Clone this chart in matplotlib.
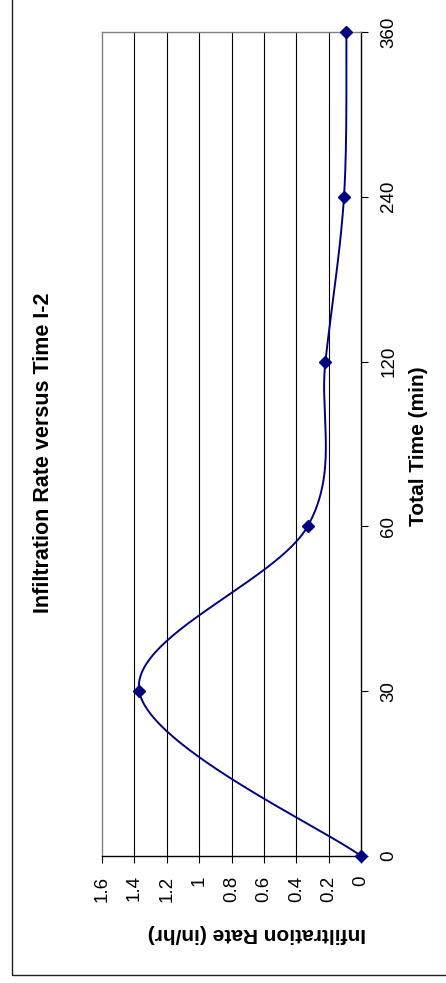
import numpy as np
import matplotlib
matplotlib.use("Agg")
import matplotlib.pyplot as plt
from matplotlib.patches import Rectangle

plt.rcParams['font.family'] = ['Liberation Sans', 'DejaVu Sans']

# infiltration test I-2
times = ['0', '30', '60', '120', '240', '360']
rates = [0.0, 1.37, 0.33, 0.22, 0.105, 0.09]
rate_ticks = [0, 0.2, 0.4, 0.6, 0.8, 1, 1.2, 1.4, 1.6]

W, H = 446, 983
fig = plt.figure(figsize=(W / 100, H / 100), dpi=100)

# chart area border (runs off the top and right of the page)
fig.add_artist(Rectangle((12 / W, 8 / H), 1.0, 1.0, transform=fig.transFigure,
                         fill=False, edgecolor='#222222', linewidth=1.0, clip_on=False))

# plot is turned on its side: rate runs right-to-left, time runs bottom-to-top
ax = fig.add_axes([102 / W, 1 - 856 / H, (361 - 102) / W, (856 - 32) / H])
ax.set_xlim(1.6, 0)
ax.set_ylim(0, len(times) - 1)

for v in rate_ticks[1:-1]:
    ax.axvline(v, color='black', linewidth=0.8, zorder=1)

for side in ['left', 'top']:
    ax.spines[side].set_color('#808080')
    ax.spines[side].set_linewidth(1.0)
for side in ['right', 'bottom']:
    ax.spines[side].set_color('black')
    ax.spines[side].set_linewidth(1.0)

idx = np.arange(len(times))
ax.yaxis.tick_right()
ax.set_yticks(idx)
ax.set_yticklabels(times, rotation=90, va='center', ha='left')
ax.set_xticks(rate_ticks)
ax.set_xticklabels([f'{v:g}' for v in rate_ticks], rotation=90, ha='center', va='top')
ax.tick_params(axis='y', direction='out', length=5, width=0.8, pad=9, labelsize=13.5)
ax.tick_params(axis='x', direction='out', length=5, width=0.8, pad=9, labelsize=13.5)


# smoothed line through the points (Catmull-Rom style beziers in screen space)
def smooth(xs, ys, n=60):
    pts = ax.transData.transform(np.column_stack([xs, ys]))
    p = np.vstack([pts[0], pts, pts[-1]])
    out = []
    for i in range(1, len(p) - 2):
        p0, p1, p2, p3 = p[i - 1], p[i], p[i + 1], p[i + 2]
        c1 = p1 + (p2 - p0) / 6
        c2 = p2 - (p3 - p1) / 6
        t = np.linspace(0, 1, n)[:, None]
        seg = ((1 - t) ** 3 * p1 + 3 * (1 - t) ** 2 * t * c1
               + 3 * (1 - t) * t ** 2 * c2 + t ** 3 * p2)
        out.append(seg)
    curve = np.vstack(out)
    return ax.transData.inverted().transform(curve)


curve = smooth(rates, idx)
ax.plot(curve[:, 0], curve[:, 1], color='#000080', linewidth=1.4, clip_on=False, zorder=3)
ax.plot(rates, idx, linestyle='none', marker='D', markersize=6.2,
        color='#000080', clip_on=False, zorder=4)

fig.text(44 / W, 1 - 453 / H, 'Infiltration Rate versus Time I-2', rotation=90,
         ha='center', va='center', fontsize=15.5, fontweight='bold')
fig.text(419 / W, 1 - 446 / H, 'Total Time (min)', rotation=90,
         ha='center', va='center', fontsize=15, fontweight='bold')
fig.text(257 / W, 1 - 933 / H, 'Infiltration Rate (in/hr)', rotation=180,
         ha='center', va='center', fontsize=15, fontweight='bold')

fig.savefig('out.png', dpi=100)
